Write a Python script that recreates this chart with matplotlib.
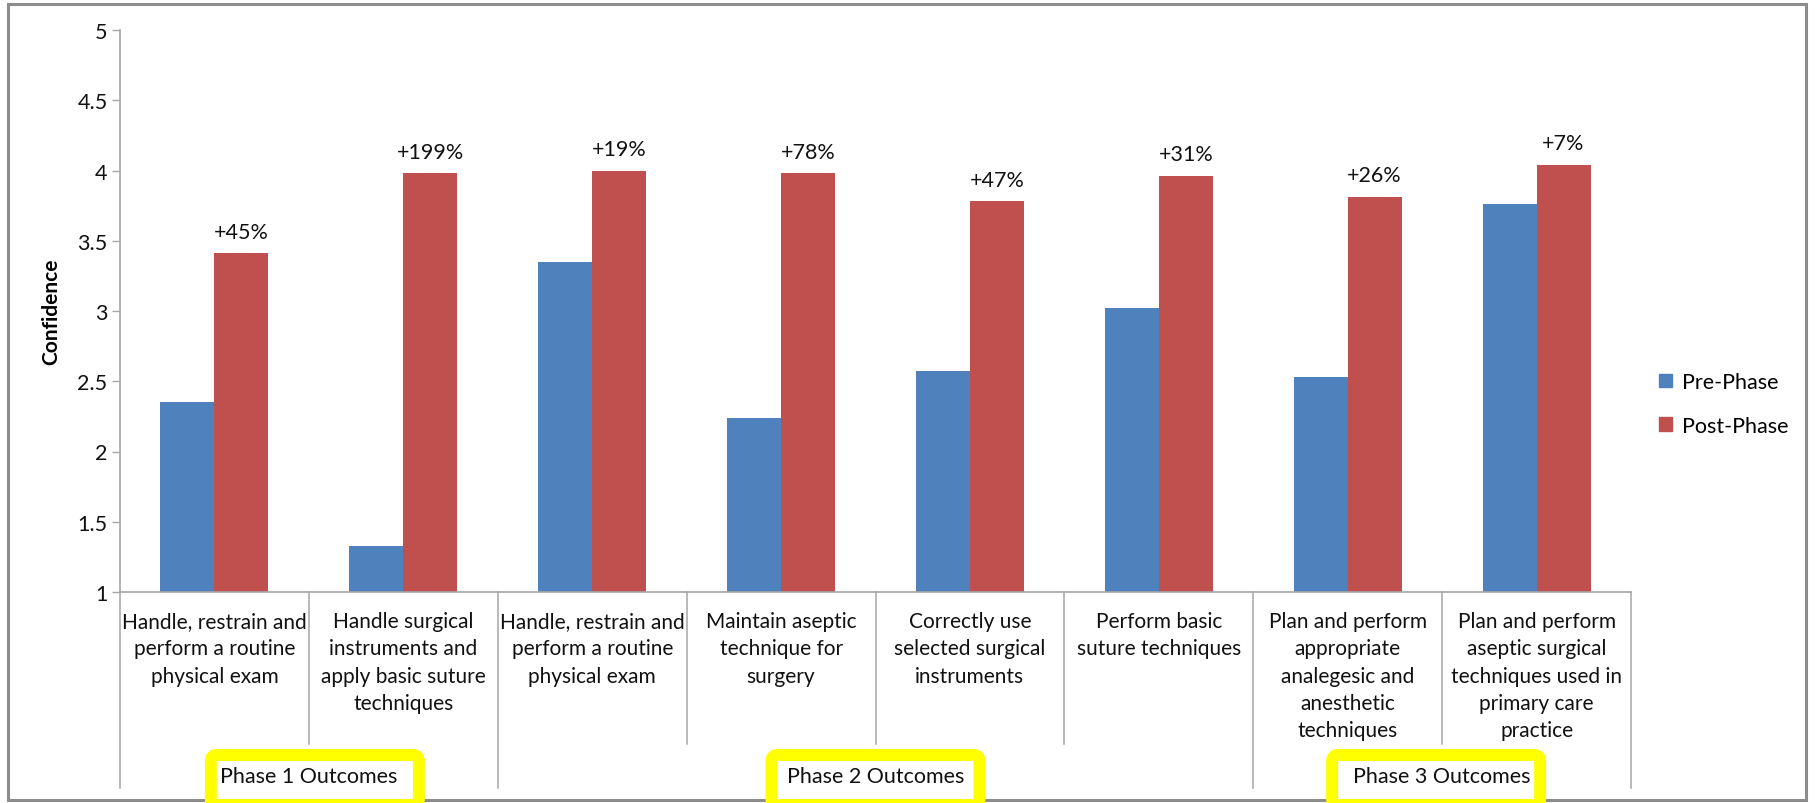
import matplotlib
matplotlib.use("Agg")
import matplotlib.pyplot as plt
import matplotlib.transforms as mtransforms
from matplotlib.patches import FancyBboxPatch, Rectangle, Patch
from matplotlib.lines import Line2D
import numpy as np

plt.rcParams['font.family'] = ['Lato', 'DejaVu Sans']

# ---------------- data ----------------
categories = [
    "Handle, restrain and\nperform a routine\nphysical exam",
    "Handle surgical\ninstruments and\napply basic suture\ntechniques",
    "Handle, restrain and\nperform a routine\nphysical exam",
    "Maintain aseptic\ntechnique for\nsurgery",
    "Correctly use\nselected surgical\ninstruments",
    "Perform basic\nsuture techniques",
    "Plan and perform\nappropriate\nanalegesic and\nanesthetic\ntechniques",
    "Plan and perform\naseptic surgical\ntechniques used in\nprimary care\npractice",
]
pre_phase = [2.35, 1.33, 3.35, 2.24, 2.57, 3.02, 2.53, 3.76]
post_phase = [3.41, 3.98, 4.00, 3.98, 3.78, 3.96, 3.81, 4.04]
change_labels = ["+45%", "+199%", "+19%", "+78%", "+47%", "+31%", "+26%", "+7%"]
phase_names = ["Phase 1 Outcomes", "Phase 2 Outcomes", "Phase 3 Outcomes"]
phase_spans = [(0, 1), (2, 5), (6, 7)]
series_names = ["Pre-Phase", "Post-Phase"]
y_ticks = [1, 1.5, 2, 2.5, 3, 3.5, 4, 4.5, 5]
y_label = "Confidence"

# ---------------- layout ----------------
W, H = 1816, 804
DPI = 100
BLUE = "#4F81BD"
RED = "#C0504D"
GRID = "#A6A6A6"
TXT = "#111111"

fig = plt.figure(figsize=(W / DPI, H / DPI), dpi=DPI)
ax = fig.add_axes([120 / W, 1 - 593 / H, (1631 - 120) / W, (593 - 31) / H])

x = np.arange(len(categories))
bw = 1 / 3.5
ax.bar(x - bw / 2, pre_phase, bw, color=BLUE, label=series_names[0], zorder=2)
ax.bar(x + bw / 2, post_phase, bw, color=RED, label=series_names[1], zorder=2)

ax.set_xlim(-0.5, len(categories) - 0.5)
ax.set_ylim(1, 5)
ax.set_yticks(y_ticks)
ax.set_yticklabels([f"{t:g}" for t in y_ticks])
ax.tick_params(axis='y', length=6, width=1, color=GRID, labelsize=15.5, pad=3, labelcolor=TXT)
ax.set_xticks([])
for s in ["top", "right"]:
    ax.spines[s].set_visible(False)
for s in ["left", "bottom"]:
    ax.spines[s].set_color(GRID)
    ax.spines[s].set_linewidth(1.2)

# percentage labels above post bars
for xi, v, lab in zip(x, post_phase, change_labels):
    ax.annotate(lab, (xi + bw / 2, v), xytext=(0, 8.5), textcoords="offset points",
                ha="center", va="bottom", fontsize=15.5, color=TXT)

# category labels & dividers
blend = mtransforms.blended_transform_factory(ax.transData, fig.transFigure)
phase_bounds = set()
for a, b in phase_spans:
    phase_bounds.add(a)
    phase_bounds.add(b + 1)
for i in range(len(categories) + 1):
    yend = 789 if i in phase_bounds else 745
    fig.add_artist(Line2D([i - 0.5, i - 0.5], [1 - 593 / H, 1 - yend / H],
                          transform=blend, color=GRID, lw=1.1))
for xi, lab in zip(x, categories):
    fig.text(xi, 1 - 612 / H, lab, transform=blend, ha="center", va="top",
             fontsize=15, linespacing=1.46, color=TXT)

# y label
fig.text(51 / W, 1 - 312 / H, y_label, rotation=90, ha="center", va="center",
         fontsize=15, fontweight="bold", color="#000000")

# outer frame
fig.add_artist(Rectangle((8 / W, 1 - 801 / H), (1806 - 8) / W, (801 - 5) / H,
                         transform=fig.transFigure, fill=False, ec="#8C8C8C", lw=2.2, zorder=0))

# phase boxes with labels
ident = mtransforms.IdentityTransform()
box_shift = [6, 0, -6]
for name, (a, b), sh in zip(phase_names, phase_spans, box_shift):
    cx_px = ax.transData.transform(((a + b) / 2, 1))[0]
    bw_px = 208
    fig.add_artist(FancyBboxPatch((cx_px + sh - bw_px / 2, H - 806), bw_px, 806 - 756,
                                  boxstyle="round,pad=0,rounding_size=6",
                                  transform=ident, fc="white", ec="#FFFF00", lw=8.6, zorder=5))
    fig.text(cx_px / W, 1 - 777 / H, name, ha="center", va="center",
             fontsize=15.5, color=TXT, zorder=6)

# legend
handles = [Patch(color=BLUE, label=series_names[0]), Patch(color=RED, label=series_names[1])]
fig.legend(handles=handles, loc="center left", bbox_to_anchor=(1659 / W, 1 - 405 / H),
           bbox_transform=fig.transFigure, frameon=False, fontsize=15.5,
           handlelength=0.6, handleheight=0.6, handletextpad=0.45, labelspacing=1.1,
           borderpad=0, borderaxespad=0)

fig.savefig("out.png", dpi=DPI)
